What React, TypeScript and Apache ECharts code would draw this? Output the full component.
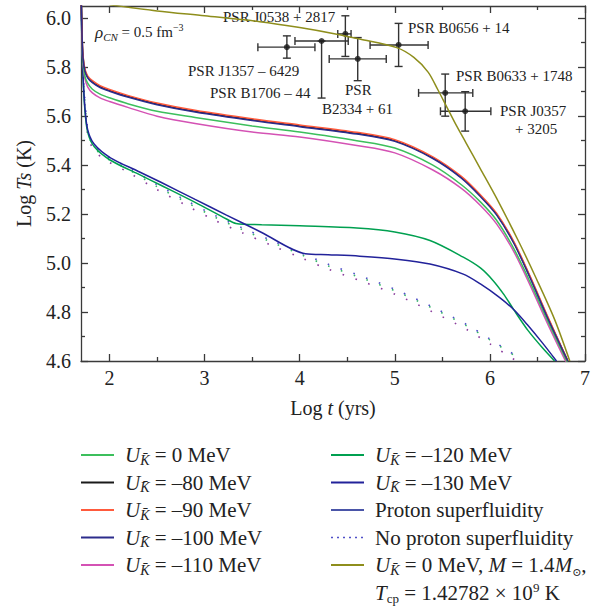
import React, { useEffect, useRef } from "react";
import * as echarts from "echarts";

const FONT = '"Liberation Serif", "DejaVu Serif", serif';

// ---- x ticks / y ticks ----
const xMajor = [2, 3, 4, 5, 6, 7];
const xMinor = [2.5, 3.5, 4.5, 5.5, 6.5];
const yMajor = [4.6, 4.8, 5.0, 5.2, 5.4, 5.6, 5.8, 6.0];
const yMinor = [4.7, 4.9, 5.1, 5.3, 5.5, 5.7, 5.9];

// ---- upper group (log t grid) ----
const tUpper = [1.70, 1.71, 1.72, 1.74, 1.77, 1.82, 1.90, 2.00, 2.20, 2.50, 2.90, 3.50, 4.00, 4.60, 5.00, 5.40, 5.70, 5.90, 6.07, 6.25, 6.42, 6.60, 6.82];
const yU80 = [6.12, 5.95, 5.85, 5.79, 5.76, 5.74, 5.72, 5.705, 5.68, 5.65, 5.62, 5.585, 5.56, 5.53, 5.50, 5.43, 5.35, 5.275, 5.20, 5.085, 4.945, 4.785, 4.60];
const yU90 = [6.12, 5.955, 5.855, 5.795, 5.765, 5.745, 5.725, 5.709, 5.684, 5.654, 5.624, 5.589, 5.564, 5.534, 5.504, 5.434, 5.354, 5.279, 5.204, 5.089, 4.949, 4.789, 4.60];
const yU100 = [6.12, 5.945, 5.845, 5.787, 5.757, 5.737, 5.717, 5.702, 5.677, 5.647, 5.617, 5.582, 5.557, 5.527, 5.497, 5.427, 5.347, 5.272, 5.197, 5.082, 4.942, 4.782, 4.60];
const yU0 = [6.12, 5.93, 5.83, 5.765, 5.735, 5.71, 5.69, 5.675, 5.65, 5.62, 5.595, 5.56, 5.535, 5.50, 5.47, 5.40, 5.32, 5.25, 5.175, 5.06, 4.925, 4.77, 4.59];
const yU110 = [6.12, 5.92, 5.82, 5.755, 5.72, 5.695, 5.675, 5.66, 5.635, 5.60, 5.57, 5.535, 5.515, 5.48, 5.45, 5.38, 5.305, 5.235, 5.16, 5.048, 4.912, 4.758, 4.58];

// ---- lower group (proton superfluidity) ----
const tU130 = [1.70, 1.71, 1.72, 1.74, 1.77, 1.84, 2.01, 2.30, 2.54, 2.90, 3.23, 3.60, 4.06, 4.30, 4.63, 5.02, 5.37, 5.72, 5.90, 6.10, 6.25, 6.39, 6.55, 6.70];
const yU130 = [6.12, 5.90, 5.78, 5.64, 5.545, 5.485, 5.43, 5.375, 5.33, 5.26, 5.196, 5.125, 5.038, 5.034, 5.028, 5.016, 4.996, 4.955, 4.915, 4.86, 4.81, 4.75, 4.675, 4.60];
const tU120 = [1.70, 1.71, 1.72, 1.74, 1.77, 1.84, 2.01, 2.30, 2.54, 2.90, 3.23, 3.33, 3.60, 4.00, 4.60, 5.00, 5.37, 5.72, 5.90, 6.03, 6.15, 6.25, 6.40, 6.55, 6.68];
const yU120 = [6.12, 5.89, 5.77, 5.63, 5.535, 5.475, 5.42, 5.364, 5.318, 5.248, 5.18, 5.162, 5.157, 5.152, 5.143, 5.127, 5.092, 5.024, 4.98, 4.93, 4.87, 4.81, 4.725, 4.655, 4.60];

// ---- no proton superfluidity (dotted) ----
const tDot = [1.72, 1.77, 1.83, 1.94, 2.19, 2.50, 2.80, 3.10, 3.40, 3.70, 4.00, 4.30, 4.68, 5.03, 5.40, 5.75, 6.00, 6.28];
const yDotPurple = [5.76, 5.525, 5.465, 5.425, 5.372, 5.30, 5.237, 5.176, 5.123, 5.073, 5.024, 4.975, 4.922, 4.868, 4.80, 4.73, 4.67, 4.60];
const yDotGreen = [5.78, 5.54, 5.478, 5.435, 5.384, 5.312, 5.25, 5.189, 5.136, 5.086, 5.037, 4.988, 4.935, 4.882, 4.815, 4.745, 4.686, 4.617];
const yDotBlue = [5.79, 5.55, 5.487, 5.445, 5.392, 5.32, 5.257, 5.196, 5.143, 5.093, 5.044, 4.995, 4.942, 4.888, 4.82, 4.75, 4.69, 4.62];

// ---- M = 1.4 Msun curve ----
const tOlive = [2.00, 2.50, 3.00, 3.58, 4.00, 4.39, 4.63, 5.02, 5.20, 5.35, 5.45, 5.55, 5.65, 5.75, 5.90, 6.07, 6.30, 6.49, 6.68, 6.84];
const yOlive = [6.055, 6.03, 6.01, 5.986, 5.962, 5.935, 5.915, 5.88, 5.84, 5.78, 5.71, 5.635, 5.56, 5.49, 5.385, 5.265, 5.09, 4.935, 4.77, 4.60];

// ---- pulsar observations ----
const psrNames = ["PSR J1357-6429", "PSR B1706-44", "PSR J0538+2817", "PSR B2334+61", "PSR B0656+14", "PSR B0633+1748", "PSR J0357+3205"];
const psrT = [3.865, 4.23, 4.48, 4.61, 5.04, 5.53, 5.74];
const psrY = [5.882, 5.907, 5.936, 5.834, 5.891, 5.695, 5.62];
const psrTLo = [3.56, 3.95, 4.40, 4.31, 4.74, 5.25, 5.48];
const psrTHi = [4.16, 4.51, 4.54, 4.91, 5.35, 5.82, 6.01];
const psrYLo = [5.837, 5.674, 5.844, 5.745, 5.803, 5.60, 5.539];
const psrYHi = [5.928, 5.907, 6.01, 5.921, 5.979, 5.772, 5.70];

const zip = (xs: number[], ys: number[]) => xs.map((x, i) => [x, ys[i]]);

const richBase = {
  it: { fontStyle: "italic", fontFamily: FONT, fontSize: 21, lineHeight: 24 },
  sub: { fontStyle: "italic", fontFamily: FONT, fontSize: 14, lineHeight: 12, verticalAlign: "bottom" },
  sub2: { fontFamily: FONT, fontSize: 11, lineHeight: 12, verticalAlign: "bottom" },
  n: { fontFamily: FONT, fontSize: 21, lineHeight: 24 },
};

const legendLabels: Record<string, string> = {
  U0: "{it|U}{sub|K\u0304}{n| = 0 MeV}",
  U80: "{it|U}{sub|K\u0304}{n| = –80 MeV}",
  U90: "{it|U}{sub|K\u0304}{n| = –90 MeV}",
  U100: "{it|U}{sub|K\u0304}{n| = –100 MeV}",
  U110: "{it|U}{sub|K\u0304}{n| = –110 MeV}",
  U120: "{it|U}{sub|K\u0304}{n| = –120 MeV}",
  U130: "{it|U}{sub|K\u0304}{n| = –130 MeV}",
  "Proton superfluidity": "{n|Proton superfluidity}",
  "No proton superfluidity": "{n|No proton superfluidity}",
  Olive: "{it|U}{sub|K\u0304}{n| = 0 MeV, }{it|M}{n| = 1.4}{it|M}{sub2|\u2299}{n|,}",
};

export default function App() {
  const ref = useRef<HTMLDivElement>(null);
  useEffect(() => {
    if (!ref.current) return;
    const chart = echarts.init(ref.current, null, { renderer: "svg" });
    const axisColor = "#3a3a3a";
    const lineSeries = (name: string, data: number[][], color: string, extra: any = {}) => ({
      type: "line",
      name,
      data,
      showSymbol: false,
      symbol: "none",
      smooth: 0.3,
      lineStyle: { color, width: 1.5 },
      itemStyle: { color },
      silent: true,
      ...extra,
    });
    const dotted = (name: string, ys: number[], color: string) =>
      lineSeries(name, zip(tDot, ys), color, {
        lineStyle: { color, width: 1.6, type: [1.6, 12] },
      });
    const xCommon = { type: "value", min: 1.7, max: 7, splitLine: { show: false } };
    const yCommon = { type: "value", min: 4.6, max: 6.05, splitLine: { show: false } };
    const tickLine = { color: axisColor, width: 1.3 };
    const legendCommon = {
      orient: "vertical",
      itemWidth: 33,
      itemHeight: 14,
      itemGap: 3.5,
      padding: 0,
      selectedMode: false,
      itemStyle: { opacity: 0 },
      formatter: (name: string) => legendLabels[name] || name,
      textStyle: {
        fontFamily: FONT,
        fontSize: 21,
        color: "#222",
        lineHeight: 24,
        padding: [0, 0, 0, 6],
        rich: richBase,
      },
    };

    chart.setOption({
      animation: false,
      backgroundColor: "#fff",
      grid: { left: 81, right: 16, top: 6, bottom: 249, containLabel: false },
      xAxis: [
        {
          ...xCommon,
          position: "bottom",
          axisLine: { show: true, lineStyle: tickLine },
          axisTick: { show: true, inside: true, length: 7, customValues: xMajor, lineStyle: tickLine },
          axisLabel: {
            customValues: xMajor,
            fontFamily: FONT,
            fontSize: 20,
            color: "#222",
            margin: 7,
            formatter: (v: number) => String(Math.round(v)),
          },
          name: "Log {it|t} (yrs)",
          nameLocation: "middle",
          nameGap: 37,
          nameTextStyle: { fontFamily: FONT, fontSize: 20, color: "#222", rich: { it: { fontStyle: "italic", fontFamily: FONT, fontSize: 20 } } },
        },
        {
          ...xCommon,
          position: "bottom",
          axisLine: { show: false },
          axisTick: { show: true, inside: true, length: 4, customValues: xMinor, lineStyle: tickLine },
          axisLabel: { show: false },
        },
        {
          ...xCommon,
          position: "top",
          axisLine: { show: true, lineStyle: tickLine },
          axisTick: { show: true, inside: true, length: 7, customValues: xMajor, lineStyle: tickLine },
          axisLabel: { show: false },
        },
        {
          ...xCommon,
          position: "top",
          axisLine: { show: false },
          axisTick: { show: true, inside: true, length: 4, customValues: xMinor, lineStyle: tickLine },
          axisLabel: { show: false },
        },
      ],
      yAxis: [
        {
          ...yCommon,
          position: "left",
          axisLine: { show: true, lineStyle: tickLine },
          axisTick: { show: true, inside: true, length: 7, customValues: yMajor, lineStyle: tickLine },
          axisLabel: {
            customValues: yMajor,
            fontFamily: FONT,
            fontSize: 20,
            color: "#222",
            margin: 10,
            formatter: (v: number) => v.toFixed(1),
          },
          name: "Log {it|Ts} (K)",
          nameLocation: "middle",
          nameGap: 47,
          nameTextStyle: { fontFamily: FONT, fontSize: 20, color: "#222", rich: { it: { fontStyle: "italic", fontFamily: FONT, fontSize: 20 } } },
        },
        {
          ...yCommon,
          position: "left",
          axisLine: { show: false },
          axisTick: { show: true, inside: true, length: 4, customValues: yMinor, lineStyle: tickLine },
          axisLabel: { show: false },
        },
        {
          ...yCommon,
          position: "right",
          axisLine: { show: true, lineStyle: tickLine },
          axisTick: { show: true, inside: true, length: 7, customValues: yMajor, lineStyle: tickLine },
          axisLabel: { show: false },
        },
        {
          ...yCommon,
          position: "right",
          axisLine: { show: false },
          axisTick: { show: true, inside: true, length: 4, customValues: yMinor, lineStyle: tickLine },
          axisLabel: { show: false },
        },
      ],
      legend: [
        { ...legendCommon, left: 80, top: 443, data: ["U0", "U80", "U90", "U100", "U110"] },
        {
          ...legendCommon,
          left: 330,
          top: 443,
          data: [
            "U120",
            "U130",
            "Proton superfluidity",
            { name: "No proton superfluidity", lineStyle: { type: [2, 4], width: 1.5 } },
            "Olive",
          ],
        },
      ],
      series: [
        dotted("dotGreen", yDotGreen, "#35b868"),
        dotted("No proton superfluidity", yDotBlue, "#5050c8"),
        dotted("dotPurple", yDotPurple, "#8a3c9c"),
        lineSeries("Proton superfluidity", [], "#4a55a8"),
        lineSeries("U120", zip(tU120, yU120), "#00a050"),
        lineSeries("U130", zip(tU130, yU130), "#22229a"),
        lineSeries("U110", zip(tUpper, yU110), "#d452b4"),
        lineSeries("U0", zip(tUpper, yU0), "#3cbf5c"),
        lineSeries("U80", zip(tUpper, yU80), "#1a1a1a"),
        lineSeries("U90", zip(tUpper, yU90), "#ff5a3c"),
        lineSeries("U100", zip(tUpper, yU100), "#2c2c8c"),
        lineSeries("Olive", zip(tOlive, yOlive), "#8e8e1c"),
        {
          type: "custom",
          name: "errors",
          silent: true,
          data: psrT.map((t, i) => [t, psrY[i], psrTLo[i], psrTHi[i], psrYLo[i], psrYHi[i]]),
          encode: { x: [0, 2, 3], y: [1, 4, 5] },
          renderItem: (params: any, api: any) => {
            const x = api.value(0), y = api.value(1);
            const pL = api.coord([api.value(2), y]);
            const pR = api.coord([api.value(3), y]);
            const pB = api.coord([x, api.value(4)]);
            const pT = api.coord([x, api.value(5)]);
            const c = 4;
            const st = { stroke: "#333", lineWidth: 1.4 };
            const ln = (x1: number, y1: number, x2: number, y2: number) => ({
              type: "line",
              shape: { x1, y1, x2, y2 },
              style: st,
            });
            return {
              type: "group",
              children: [
                ln(pL[0], pL[1], pR[0], pR[1]),
                ln(pB[0], pB[1], pT[0], pT[1]),
                ln(pL[0], pL[1] - c, pL[0], pL[1] + c),
                ln(pR[0], pR[1] - c, pR[0], pR[1] + c),
                ln(pB[0] - c, pB[1], pB[0] + c, pB[1]),
                ln(pT[0] - c, pT[1], pT[0] + c, pT[1]),
              ],
            };
          },
        },
        {
          type: "scatter",
          name: "pulsars",
          silent: true,
          symbolSize: 6,
          itemStyle: { color: "#1a1a1a" },
          data: zip(psrT, psrY),
        },
      ],
      graphic: [
        ...[
          ["PSR J0538 + 2817", 223, 17],
          ["PSR J1357 – 6429", 188, 71],
          ["PSR B1706 – 44", 210, 93],
          ["PSR", 345, 90],
          ["B2334 + 61", 322, 109],
          ["PSR B0656 + 14", 408, 28],
          ["PSR B0633 + 1748", 456, 76],
          ["PSR J0357", 500, 111],
          ["+ 3205", 515, 129],
        ].map(([text, x, y]) => ({
          type: "text",
          x: x as number,
          y: y as number,
          silent: true,
          style: {
            text: text as string,
            fontFamily: FONT,
            fontSize: 15,
            fill: "#222",
            align: "left",
            verticalAlign: "middle",
          },
        })),
        {
          type: "text",
          x: 95,
          y: 32,
          silent: true,
          style: {
            text: "{it|ρ}{sub|CN}{n| = 0.5 fm}{sup|−3}",
            fill: "#222",
            align: "left",
            verticalAlign: "middle",
            rich: {
              it: { fontStyle: "italic", fontFamily: FONT, fontSize: 17, lineHeight: 20 },
              n: { fontFamily: FONT, fontSize: 15, lineHeight: 20 },
              sub: { fontStyle: "italic", fontFamily: FONT, fontSize: 11, lineHeight: 10, verticalAlign: "bottom" },
              sup: { fontFamily: FONT, fontSize: 10, lineHeight: 10, verticalAlign: "top" },
            },
          },
        },
        {
          type: "text",
          x: 375,
          y: 593,
          silent: true,
          style: {
            text: "{it|T}{sub2|cp}{n| = 1.42782 × 10}{sup|9}{n| K}",
            fill: "#222",
            align: "left",
            verticalAlign: "middle",
            rich: {
              it: { fontStyle: "italic", fontFamily: FONT, fontSize: 21, lineHeight: 24 },
              n: { fontFamily: FONT, fontSize: 21, lineHeight: 24 },
              sub2: { fontFamily: FONT, fontSize: 13, lineHeight: 12, verticalAlign: "bottom" },
              sup: { fontFamily: FONT, fontSize: 13, lineHeight: 12, verticalAlign: "top" },
            },
          },
        },
      ],
    });
    return () => chart.dispose();
  }, []);
  return (
    <div
      ref={ref}
      style={{ position: "fixed", left: 0, top: 0, width: 601, height: 610, background: "#fff" }}
    />
  );
}
